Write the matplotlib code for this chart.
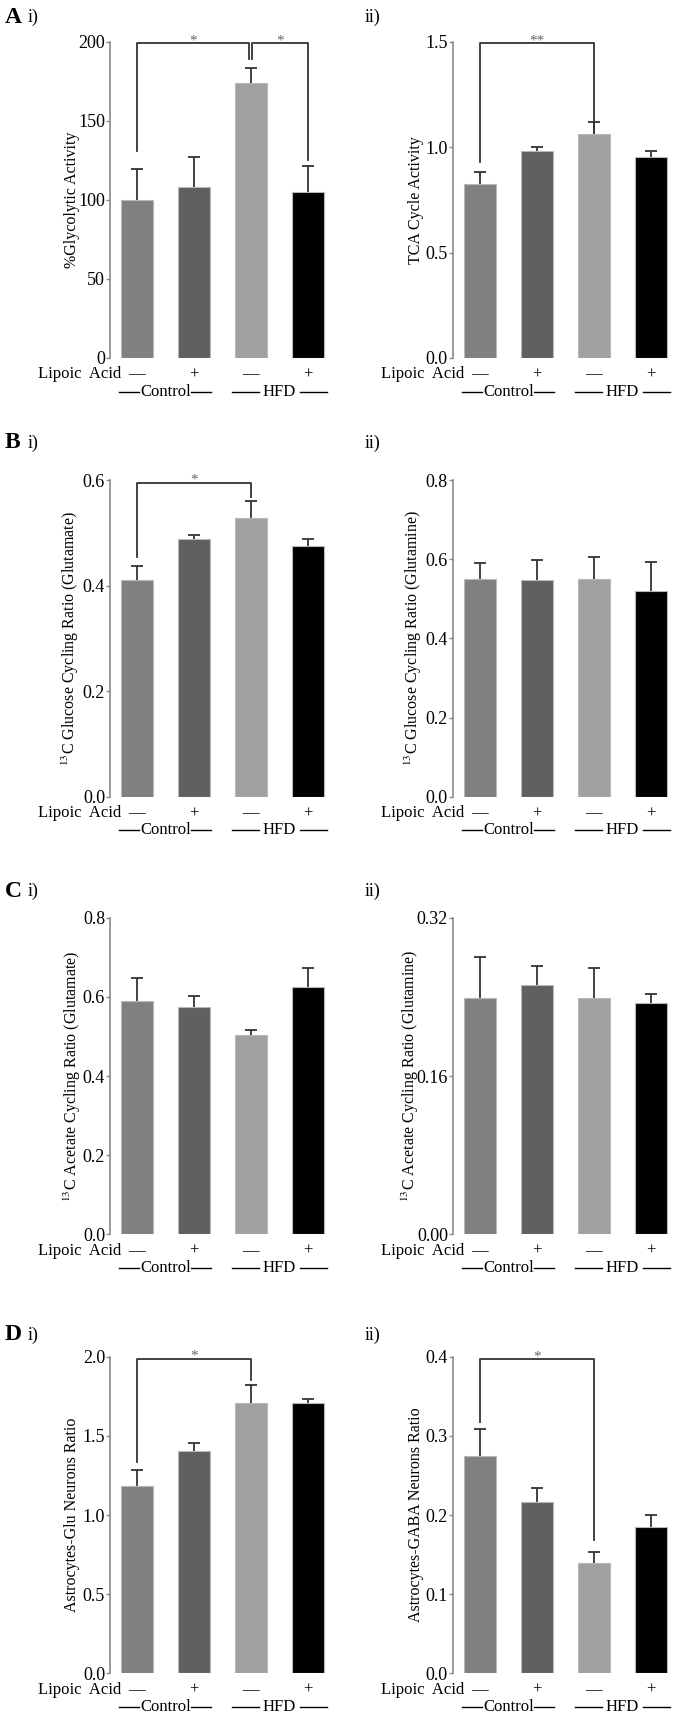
import matplotlib
matplotlib.use('Agg')
import matplotlib.pyplot as plt
from matplotlib.transforms import blended_transform_factory
import numpy as np

plt.rcParams['font.family'] = ['Liberation Serif', 'DejaVu Serif']
plt.rcParams['mathtext.fontset'] = 'stix'

# groups: Control -/+ lipoic acid, HFD -/+ lipoic acid
lipoic_labels = ['\u2014', '+', '\u2014', '+']
diet_groups = ['Control', 'HFD']
bar_colors = ['#808080', '#606060', '#a0a0a0', '#000000']

# panel data (means and upper SEM)
glyco_mean = [100, 108, 174, 105]
glyco_err = [19.5, 19, 9, 16.5]
tca_mean = [0.826, 0.979, 1.06, 0.952]
tca_err = [0.055, 0.021, 0.06, 0.03]
glc_glu_mean = [0.411, 0.488, 0.529, 0.475]
glc_glu_err = [0.027, 0.009, 0.031, 0.014]
glc_gln_mean = [0.550, 0.547, 0.550, 0.521]
glc_gln_err = [0.040, 0.051, 0.056, 0.073]
ace_glu_mean = [0.589, 0.575, 0.505, 0.626]
ace_glu_err = [0.058, 0.028, 0.011, 0.047]
ace_gln_mean = [0.2392, 0.252, 0.2392, 0.2341]
ace_gln_err = [0.041, 0.019, 0.030, 0.0087]
glu_ratio_mean = [1.183, 1.406, 1.707, 1.707]
glu_ratio_err = [0.099, 0.047, 0.116, 0.026]
gaba_ratio_mean = [0.2745, 0.2168, 0.139, 0.1853]
gaba_ratio_err = [0.034, 0.017, 0.0147, 0.0151]

# significance brackets: (x1, x2, y_top, y_left_end, y_right_end, label)
sig_glyco = [(0, 1.97, 199, 130.5, 188.8, '*'), (2.03, 3.0, 199, 188.8, 125.3, '*')]
sig_tca = [(0, 2, 1.492, 0.93, 1.066, '**')]
sig_glc_glu = [(0, 2, 0.595, 0.455, 0.569, '*')]
sig_glu_ratio = [(0, 2, 1.987, 1.337, 1.853, '*')]
sig_gaba_ratio = [(0, 2, 0.397, 0.318, 0.168, '*')]

panels = [
    # letter, roman, mean, err, ylabel, yticks, ticklabels, brackets
    ('A', 'i)', glyco_mean, glyco_err, '%Glycolytic Activity',
     [0, 50, 100, 150, 200], ['0', '50', '100', '150', '200'], sig_glyco),
    ('', 'ii)', tca_mean, tca_err, 'TCA Cycle Activity',
     [0, 0.5, 1.0, 1.5], ['0.0', '0.5', '1.0', '1.5'], sig_tca),
    ('B', 'i)', glc_glu_mean, glc_glu_err, r'$^{13}$C Glucose Cycling Ratio (Glutamate)',
     [0, 0.2, 0.4, 0.6], ['0.0', '0.2', '0.4', '0.6'], sig_glc_glu),
    ('', 'ii)', glc_gln_mean, glc_gln_err, r'$^{13}$C Glucose Cycling Ratio (Glutamine)',
     [0, 0.2, 0.4, 0.6, 0.8], ['0.0', '0.2', '0.4', '0.6', '0.8'], []),
    ('C', 'i)', ace_glu_mean, ace_glu_err, r'$^{13}$C Acetate Cycling Ratio (Glutamate)',
     [0, 0.2, 0.4, 0.6, 0.8], ['0.0', '0.2', '0.4', '0.6', '0.8'], []),
    ('', 'ii)', ace_gln_mean, ace_gln_err, r'$^{13}$C Acetate Cycling Ratio (Glutamine)',
     [0, 0.16, 0.32], ['0.00', '0.16', '0.32'], []),
    ('D', 'i)', glu_ratio_mean, glu_ratio_err, 'Astrocytes-Glu Neurons Ratio',
     [0, 0.5, 1.0, 1.5, 2.0], ['0.0', '0.5', '1.0', '1.5', '2.0'], sig_glu_ratio),
    ('', 'ii)', gaba_ratio_mean, gaba_ratio_err, 'Astrocytes-GABA Neurons Ratio',
     [0, 0.1, 0.2, 0.3, 0.4], ['0.0', '0.1', '0.2', '0.3', '0.4'], sig_gaba_ratio),
]

W, H = 675, 1716
fig = plt.figure(figsize=(W / 100, H / 100), dpi=100)

col_left = [110, 453]
col_width = 216
row_bottom = [358, 796.7, 1234.3, 1673.3]
row_height = 316.5
letter_y = [17.5, 443, 891.5, 1335]
ylabel_x = [[72, 416], [70, 413], [72, 410], [72, 416]]

x = np.arange(4)
for i, (letter, roman, mean, err, ylabel, yt, ytl, brackets) in enumerate(panels):
    r, c = divmod(i, 2)
    ax = fig.add_axes([col_left[c] / W, 1 - row_bottom[r] / H,
                       col_width / W, row_height / H])
    ax.bar(x, mean, width=0.56, color=bar_colors, edgecolor='#b8b8b8',
           linewidth=0.8, zorder=2)
    eb = ax.errorbar(x, mean, yerr=[np.zeros(4), err], fmt='none',
                     ecolor='#333333', elinewidth=1.3, capsize=4,
                     capthick=1.3, zorder=1)
    eb[1][0].set_visible(False)  # no lower cap
    ax.set_xlim(-0.47, 3.32)
    ax.set_ylim(0, yt[-1])
    ax.set_yticks(yt)
    ax.set_yticklabels(ytl)
    ax.set_xticks([])
    for s in ['top', 'right', 'bottom']:
        ax.spines[s].set_visible(False)
    ax.spines['left'].set_color('#8a8a8a')
    ax.spines['left'].set_linewidth(1.2)
    ax.tick_params(axis='y', direction='out', length=2.6, width=1.0,
                   color='#8a8a8a', labelsize=13, pad=1)

    # y label
    xl = (ylabel_x[r][c] - col_left[c]) / col_width
    ax.text(xl, 0.5, ylabel, rotation=90, ha='center', va='center',
            fontsize=11.5, transform=ax.transAxes)

    # lipoic acid row and diet row
    tr = blended_transform_factory(ax.transData, ax.transAxes)
    ax.text(-0.28, -0.052, 'Lipoic  Acid', ha='right', va='center',
            fontsize=12, transform=tr)
    for xi, lab in zip(x, lipoic_labels):
        ax.text(xi, -0.052, lab, ha='center', va='center', fontsize=12,
                transform=tr)
    for gc, name, half, gap in [(0.5, diet_groups[0], 0.81, 0.46),
                                (2.5, diet_groups[1], 0.83, 0.36)]:
        ax.text(gc, -0.106, name, ha='center', va='center', fontsize=12,
                transform=tr)
        for a, b in [(gc - half, gc - gap), (gc + gap, gc + half)]:
            ax.plot([a, b], [-0.106, -0.106], color='black', lw=1.0,
                    transform=tr, clip_on=False)

    # significance brackets
    for x1, x2, ytop, yl, yr, lab in brackets:
        ax.plot([x1, x1, x2, x2], [yl, ytop, ytop, yr], color='#333333',
                lw=1.3, clip_on=False, zorder=3)
        ax.annotate(lab, xy=((x1 + x2) / 2, ytop), xytext=(0, -3),
                    textcoords='offset points', ha='center', va='bottom',
                    fontsize=11, color='#666666')

    # panel labels
    if letter:
        fig.text(5 / W, 1 - letter_y[r] / H, letter, fontsize=17,
                 fontweight='bold', ha='left', va='center')
        fig.text(28 / W, 1 - letter_y[r] / H, roman, fontsize=13,
                 ha='left', va='center')
    else:
        fig.text(365 / W, 1 - letter_y[r] / H, roman, fontsize=13,
                 ha='left', va='center')

fig.savefig('out.png', dpi=100)
